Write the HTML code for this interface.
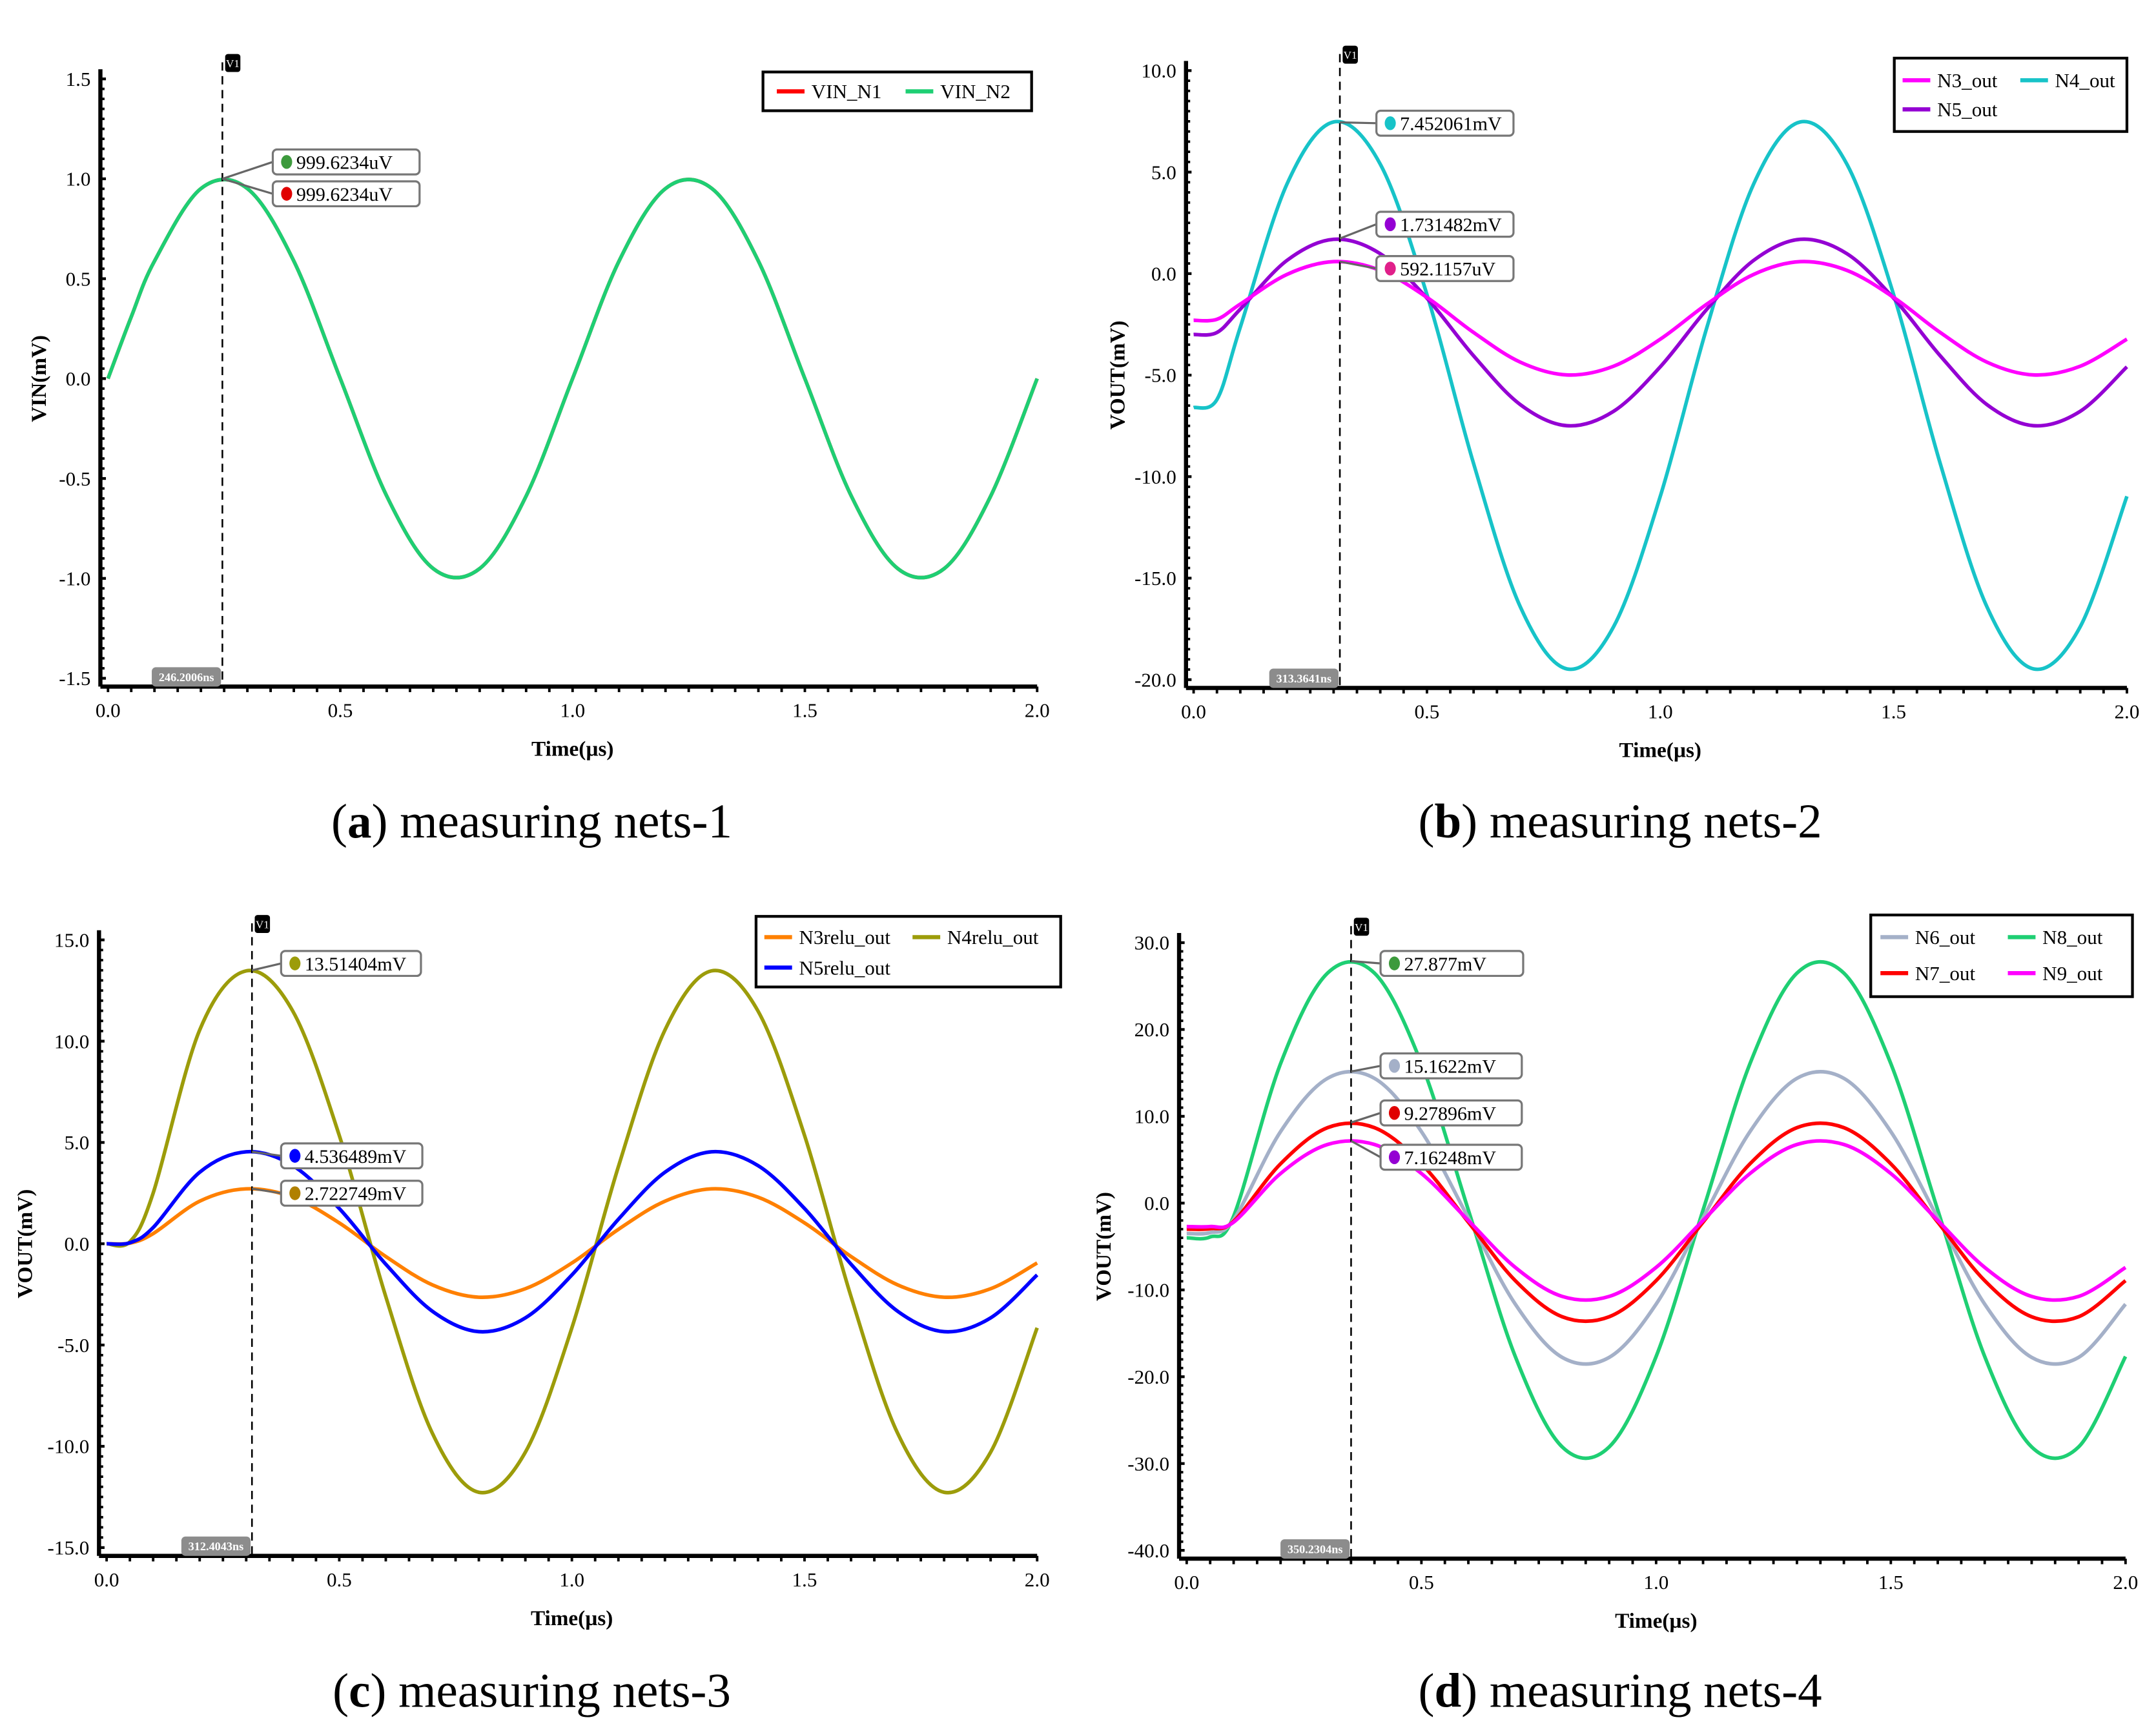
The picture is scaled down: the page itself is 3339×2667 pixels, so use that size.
<!DOCTYPE html>
<html><head><meta charset="utf-8"><style>
html,body{margin:0;padding:0;background:#fff;}
svg{display:block;}
text{font-family:"Liberation Serif",serif;}
</style></head><body>
<svg id="fig" xmlns="http://www.w3.org/2000/svg" width="3339" height="2667" viewBox="0 0 1557 1244" preserveAspectRatio="none"></svg>
<script>
const T = [0,0.05,0.1,0.2,0.3,0.4,0.5,0.6,0.7,0.8,0.9,1.0,1.1,1.2,1.3,1.4,1.5,1.6,1.7,1.8,1.9,2.0];
const xTicks = [0,0.5,1.0,1.5,2.0];
// panel a
const aTicks = [1.5,1.0,0.5,0.0,-0.5,-1.0,-1.5];
const aN1 = [0,0.309,0.588,0.951,0.951,0.588,0,-0.588,-0.951,-0.951,-0.588,0,0.588,0.951,0.951,0.588,0,-0.588,-0.951,-0.951,-0.588,0];
const aN2 = [0,0.309,0.588,0.951,0.951,0.588,0,-0.588,-0.951,-0.951,-0.588,0,0.588,0.951,0.951,0.588,0,-0.588,-0.951,-0.951,-0.588,0];
// panel b
const bTicks = [10,5,0,-5,-10,-15,-20];
const bN3 = [-2.3,-2.25,-1.50,-0.04,0.59,0.16,-1.17,-2.90,-4.36,-4.99,-4.56,-3.23,-1.50,-0.04,0.59,0.16,-1.17,-2.90,-4.36,-4.99,-4.56,-3.23];
const bN5 = [-3.0,-2.9,-1.75,0.65,1.69,0.98,-1.21,-4.05,-6.45,-7.49,-6.78,-4.59,-1.75,0.65,1.69,0.98,-1.21,-4.05,-6.45,-7.49,-6.78,-4.59];
const bN4 = [-6.6,-6.2,-2.64,4.41,7.47,5.39,-1.03,-9.36,-16.41,-19.47,-17.39,-10.97,-2.64,4.41,7.47,5.39,-1.03,-9.36,-16.41,-19.47,-17.39,-10.97];
// panel c
const cTicks = [15,10,5,0,-5,-10,-15];
const cN3r = [0,0.03,0.5,2.1,2.71,2.3,1.03,-0.63,-2.03,-2.64,-2.22,-0.95,0.71,2.1,2.71,2.3,1.03,-0.63,-2.03,-2.64,-2.22,-0.95];
const cN4r = [0,0.1,2.5,10.55,13.47,11.49,5.35,-2.61,-9.35,-12.27,-10.29,-4.15,3.81,10.55,13.47,11.49,5.35,-2.61,-9.35,-12.27,-10.29,-4.15];
const cN5r = [0,0.05,0.8,3.53,4.54,3.86,1.74,-1.01,-3.33,-4.34,-3.66,-1.54,1.21,3.53,4.54,3.86,1.74,-1.01,-3.33,-4.34,-3.66,-1.54];
// panel d
const dTicks = [30,20,10,0,-10,-20,-30,-40];
const dN8 = [-4,-3.9,-1.5,16.07,26.49,26.49,16.07,-0.8,-17.67,-28.09,-28.09,-17.67,-0.8,16.07,26.49,26.49,16.07,-0.8,-17.67,-28.09,-28.09,-17.67];
const dN6 = [-3.5,-3.4,-1.9,8.24,14.37,14.37,8.24,-1.7,-11.64,-17.77,-17.77,-11.64,-1.7,8.24,14.37,14.37,8.24,-1.7,-11.64,-17.77,-17.77,-11.64];
const dN7 = [-3,-2.95,-2.1,4.53,8.69,8.69,4.53,-2.2,-8.93,-13.09,-13.09,-8.93,-2.2,4.53,8.69,8.69,4.53,-2.2,-8.93,-13.09,-13.09,-8.93];
const dN9 = [-2.7,-2.7,-2.2,3.41,6.75,6.75,3.41,-2.0,-7.41,-10.75,-10.75,-7.41,-2.0,3.41,6.75,6.75,3.41,-2.0,-7.41,-10.75,-10.75,-7.41];

const svg = document.getElementById('fig');
const NS = 'http://www.w3.org/2000/svg';
function mk(tag, attrs, parent){
  const e = document.createElementNS(NS, tag);
  for (const k in attrs) e.setAttribute(k, attrs[k]);
  (parent||svg).appendChild(e);
  return e;
}
function txt(s, attrs, parent){ const e = mk('text', attrs, parent); e.textContent = s; return e; }
function crPath(pts){
  let d = 'M' + pts[0][0].toFixed(2) + ',' + pts[0][1].toFixed(2);
  for (let i=0;i<pts.length-1;i++){
    const p0 = pts[Math.max(0,i-1)], p1 = pts[i], p2 = pts[i+1], p3 = pts[Math.min(pts.length-1,i+2)];
    const c1 = [p1[0]+(p2[0]-p0[0])/6, p1[1]+(p2[1]-p0[1])/6];
    const c2 = [p2[0]-(p3[0]-p1[0])/6, p2[1]-(p3[1]-p1[1])/6];
    d += 'C'+c1[0].toFixed(2)+','+c1[1].toFixed(2)+' '+c2[0].toFixed(2)+','+c2[1].toFixed(2)+' '+p2[0].toFixed(2)+','+p2[1].toFixed(2);
  }
  return d;
}

function panel(cfg){
  const g = mk('g', {});
  
  
  const X = t => cfg.x0 + (t-0)/(2-0)*(cfg.x2-cfg.x0);
  const Y = v => cfg.yTop + (cfg.vTop - v)/(cfg.vTop - cfg.vBot)*(cfg.yBot-cfg.yTop);
  cfg.series.forEach(s => {
    const pts = T.map((t,i)=>[X(t), Y(s.vals[i])]);
    const p = mk('path', {d: crPath(pts), fill:'none', stroke:s.color, 'stroke-width':2.6, 'stroke-linejoin':'round'}, g);
    
    
  });
  const axL = cfg.x0 - 5.5;
  const yAx = mk('line', {x1:axL, y1:cfg.yTop-7, x2:axL, y2:cfg.axisY, stroke:'#000','stroke-width':3}, g);
  
  
  const xAx = mk('line', {x1:axL, y1:cfg.axisY, x2:cfg.x2, y2:cfg.axisY, stroke:'#000','stroke-width':3}, g);
  
  
  const nY = cfg.ticks.length - 1;
  for (let k=0;k<=nY*10;k++){
    const yy = cfg.yTop + k*(cfg.yBot-cfg.yTop)/(nY*10);
    const major = k%10===0;
    mk('line', {x1:axL, y1:yy, x2:axL+(major?4:3), y2:yy, stroke:'#000','stroke-width':major?2:1.8}, g);
  }
  cfg.ticks.forEach(v => {
    const t = txt(v.toFixed(1), {x:axL-7, y:Y(v)+5, 'font-size':14.5, 'text-anchor':'end', fill:'#000'}, g);
    
    
  });
  for (let k=0;k<=40;k++){
    const xx = cfg.x0 + k*(cfg.x2-cfg.x0)/40;
    mk('line', {x1:xx, y1:cfg.axisY, x2:xx, y2:cfg.axisY+4, stroke:'#000','stroke-width':1.8}, g);
  }
  xTicks.forEach(v => {
    const t = txt(v.toFixed(1), {x:X(v), y:cfg.axisY+22, 'font-size':14.5, 'text-anchor':'middle', fill:'#000'}, g);
    
    
  });
  const xt = txt('Time(µs)', {x:(cfg.x0+cfg.x2)/2, y:cfg.axisY+50, 'font-size':15.5, 'font-weight':'bold', 'text-anchor':'middle'}, g);
  
  
  const yt = txt(cfg.yTitle, {x:0, y:0, 'font-size':15.5, 'font-weight':'bold', 'text-anchor':'middle', transform:'translate('+cfg.yTitleX+','+((cfg.yTop+cfg.yBot)/2)+') rotate(-90)'}, g);
  
  
  const cx = X(cfg.cursorT);
  const cl = mk('line', {x1:cx, y1:cfg.yTop-12, x2:cx, y2:cfg.axisY, stroke:'#000','stroke-width':1.2,'stroke-dasharray':'6,4'}, g);
  
  
  const vb = mk('rect', {x:cx+2, y:cfg.yTop-18, width:11, height:13, rx:2, fill:'#000'}, g);
  
  
  txt('V1', {x:cx+7.5, y:cfg.yTop-8.5, 'font-size':8, fill:'#fff', 'text-anchor':'middle', 'font-family':'Liberation Sans'}, g);
  const tb = mk('rect', {x:cx-51, y:cfg.axisY-14, width:50, height:14, rx:3, fill:'#8c8c8c'}, g);
  
  
  txt(cfg.cursorLabel, {x:cx-26, y:cfg.axisY-4, 'font-size':8.5, 'font-weight':'bold', fill:'#fff', 'text-anchor':'middle'}, g);
  cfg.markers.forEach(m => {
    const py = Y(m.v);
    mk('line', {x1:cx, y1:py, x2:m.bx, y2:m.by+9, stroke:'#666','stroke-width':1.5}, g);
    const r = mk('rect', {x:m.bx, y:m.by, width:m.bw, height:18, rx:3, fill:'#fff', stroke:'#777','stroke-width':1.5}, g);
    
    
    mk('ellipse', {cx:m.bx+10, cy:m.by+9, rx:4, ry:5, fill:m.color}, g);
    txt(m.text, {x:m.bx+17, y:m.by+14, 'font-size':14, fill:'#000'}, g);
  });
  const L = cfg.legend;
  const lb = mk('rect', {x:L.x, y:L.y, width:L.w, height:L.h, fill:'#fff', stroke:'#000','stroke-width':2}, g);
  
  
  L.items.forEach(it => {
    const le = mk('g', {}, g);
    
    
    mk('line', {x1:it.x, y1:it.y, x2:it.x+20, y2:it.y, stroke:it.color,'stroke-width':3}, le);
    txt(it.label, {x:it.x+25, y:it.y+5, 'font-size':14.5}, le);
  });
  const cap = mk('text', {x:cfg.capX, y:cfg.capY, 'font-size':35, 'text-anchor':'middle'}, g);
  
  
  const s1 = document.createElementNS(NS,'tspan'); s1.textContent='('; cap.appendChild(s1);
  const s2 = document.createElementNS(NS,'tspan'); s2.setAttribute('font-weight','bold'); s2.textContent=cfg.capLetter; cap.appendChild(s2);
  const s3 = document.createElementNS(NS,'tspan'); s3.textContent=') '+cfg.capText; cap.appendChild(s3);
}

panel({name:'panel-a', x0:78, x2:749, yTop:57, yBot:490, vTop:1.5, vBot:-1.5, axisY:496, ticks:aTicks, yTitle:'VIN(mV)', yTitleX:33,
  series:[{label:'VIN_N1', color:'#ff0000', vals:aN1},{label:'VIN_N2', color:'#1ecf73', vals:aN2}],
  cursorT:0.2462, cursorLabel:'246.2006ns',
  markers:[{v:1.0, bx:197, by:108, bw:106, text:'999.6234uV', color:'#3c9a3c'},{v:1.0, bx:197, by:131, bw:106, text:'999.6234uV', color:'#e00000'}],
  legend:{x:551, y:52, w:194, h:28, items:[{x:561,y:66,color:'#ff0000',label:'VIN_N1'},{x:654,y:66,color:'#1ecf73',label:'VIN_N2'}]},
  capX:384, capY:605, capLetter:'a', capText:'measuring nets-1'});

panel({name:'panel-b', x0:862, x2:1536, yTop:51, yBot:491, vTop:10, vBot:-20, axisY:497, ticks:bTicks, yTitle:'VOUT(mV)', yTitleX:812,
  series:[{label:'N4_out', color:'#17c3c8', vals:bN4},{label:'N5_out', color:'#9400d3', vals:bN5},{label:'N3_out', color:'#ff00ff', vals:bN3}],
  cursorT:0.3134, cursorLabel:'313.3641ns',
  markers:[{v:7.45, bx:994, by:80, bw:99, text:'7.452061mV', color:'#17c3c8'},{v:1.73, bx:994, by:153, bw:99, text:'1.731482mV', color:'#9400d3'},{v:0.59, bx:994, by:185, bw:99, text:'592.1157uV', color:'#e0208a'}],
  legend:{x:1368, y:42, w:168, h:53, items:[{x:1374,y:58,color:'#ff00ff',label:'N3_out'},{x:1459,y:58,color:'#17c3c8',label:'N4_out'},{x:1374,y:79,color:'#9400d3',label:'N5_out'}]},
  capX:1170, capY:605, capLetter:'b', capText:'measuring nets-2'});

panel({name:'panel-c', x0:77, x2:749, yTop:679, yBot:1118, vTop:15, vBot:-15, axisY:1124, ticks:cTicks, yTitle:'VOUT(mV)', yTitleX:23,
  series:[{label:'N3relu_out', color:'#ff8000', vals:cN3r},{label:'N4relu_out', color:'#9c9c0a', vals:cN4r},{label:'N5relu_out', color:'#0000ff', vals:cN5r}],
  cursorT:0.3124, cursorLabel:'312.4043ns',
  markers:[{v:13.5, bx:203, by:687, bw:101, text:'13.51404mV', color:'#9c9c0a'},{v:4.54, bx:203, by:826, bw:102, text:'4.536489mV', color:'#0000ff'},{v:2.72, bx:203, by:853, bw:102, text:'2.722749mV', color:'#b08000'}],
  legend:{x:546, y:662, w:220, h:51, items:[{x:552,y:677,color:'#ff8000',label:'N3relu_out'},{x:659,y:677,color:'#9c9c0a',label:'N4relu_out'},{x:552,y:699,color:'#0000ff',label:'N5relu_out'}]},
  capX:384, capY:1233, capLetter:'c', capText:'measuring nets-3'});

panel({name:'panel-d', x0:857, x2:1535, yTop:681, yBot:1120, vTop:30, vBot:-40, axisY:1126, ticks:dTicks, yTitle:'VOUT(mV)', yTitleX:802,
  series:[{label:'N8_out', color:'#1ecf73', vals:dN8},{label:'N6_out', color:'#a4b0c8', vals:dN6},{label:'N7_out', color:'#ff0000', vals:dN7},{label:'N9_out', color:'#ff00ff', vals:dN9}],
  cursorT:0.3502, cursorLabel:'350.2304ns',
  markers:[{v:27.88, bx:997, by:687, bw:103, text:'27.877mV', color:'#3c9a3c'},{v:15.16, bx:997, by:761, bw:102, text:'15.1622mV', color:'#a4b0c8'},{v:9.28, bx:997, by:795, bw:102, text:'9.27896mV', color:'#e00000'},{v:7.16, bx:997, by:827, bw:102, text:'7.16248mV', color:'#9400d3'}],
  legend:{x:1351, y:661, w:189, h:59, items:[{x:1358,y:677,color:'#a4b0c8',label:'N6_out'},{x:1450,y:677,color:'#1ecf73',label:'N8_out'},{x:1358,y:703,color:'#ff0000',label:'N7_out'},{x:1450,y:703,color:'#ff00ff',label:'N9_out'}]},
  capX:1170, capY:1233, capLetter:'d', capText:'measuring nets-4'});
</script>
</body></html>
